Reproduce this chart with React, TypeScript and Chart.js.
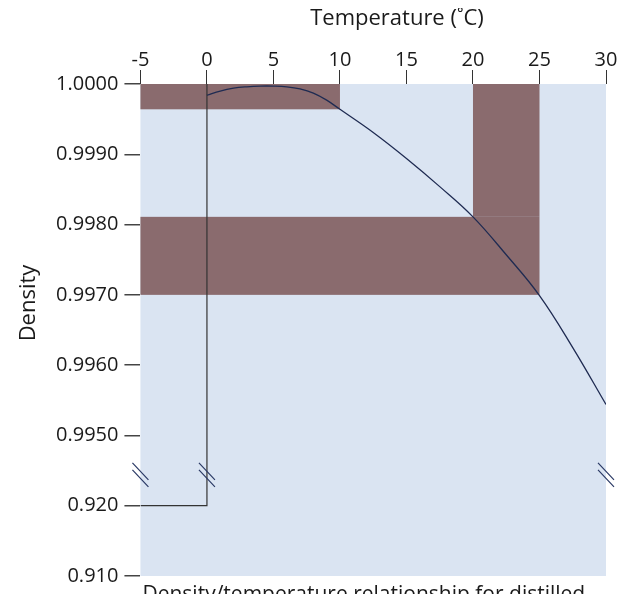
import { useEffect, useRef } from 'react';
import { Chart, registerables } from 'chart.js';

Chart.register(...registerables);

// Curve: density of distilled water vs temperature
const temps = [0, 1, 2, 3, 4, 5, 6, 7, 8, 9, 10, 12.5, 15, 17.5, 20, 22.5, 25, 27.5, 30];
const densities = [
  0.99984, 0.9999, 0.99994, 0.99996, 0.99997, 0.99997, 0.99996, 0.99993, 0.99987, 0.99977,
  0.99964, 0.99931, 0.99894, 0.99854, 0.99811, 0.99757, 0.99699, 0.99625, 0.99544,
];

// Ice reference line (0 °C → 0.920)
const iceTemps = [0, 0, -5];
const iceDensities = [1.0, 0.92, 0.92];

// Shaded bands
const bandStart = [-5, 20, -5];
const bandEnd = [10, 25, 25];
const bandHigh = [1.0, 1.0, 0.99811];
const bandLow = [0.99964, 0.99811, 0.997];

// Axis ticks
const xTickValues = [-5, 0, 5, 10, 15, 20, 25, 30];
const yTickLabels = ['0.910', '0.920', '0.9950', '0.9960', '0.9970', '0.9980', '0.9990', '1.0000'];

// Axis break marks
const breakTemps = [-5, 0, 30];
const breakIndex = 1.44;

const FONT = "'Open Sans', 'DejaVu Sans', sans-serif";

// broken y scale: 0.910..0.920 on lower part, 0.995..1.000 on upper part
function toPos(d: number): number {
  return d >= 0.99 ? 2 + (d - 0.995) / 0.001 : (d - 0.91) / 0.01;
}

const decor = {
  id: 'decor',
  beforeDatasetsDraw(chart: any) {
    const { ctx, chartArea: a, scales } = chart;
    const x = scales.x;
    const y = scales.y;
    ctx.save();
    ctx.fillStyle = '#dae4f2';
    ctx.fillRect(a.left, a.top, a.right - a.left, a.bottom - a.top);
    ctx.fillStyle = '#8a6b6e';
    for (let i = 0; i < bandStart.length; i++) {
      const x0 = x.getPixelForValue(bandStart[i]);
      const x1 = x.getPixelForValue(bandEnd[i]);
      const y0 = y.getPixelForValue(toPos(bandHigh[i]));
      const y1 = y.getPixelForValue(toPos(bandLow[i]));
      ctx.fillRect(x0, y0, x1 - x0, y1 - y0);
    }
    ctx.restore();
  },
  afterDatasetsDraw(chart: any) {
    const { ctx, scales } = chart;
    const x = scales.x;
    const y = scales.y;
    ctx.save();
    ctx.strokeStyle = '#2b3a66';
    ctx.lineWidth = 1.2;
    const cy = y.getPixelForValue(breakIndex);
    for (const t of breakTemps) {
      const cx = x.getPixelForValue(t);
      ctx.beginPath();
      ctx.moveTo(cx - 8, cy - 12);
      ctx.lineTo(cx + 8, cy + 5);
      ctx.moveTo(cx - 8, cy - 5);
      ctx.lineTo(cx + 8, cy + 12);
      ctx.stroke();
    }
    ctx.restore();
  },
  afterDraw(chart: any) {
    const { ctx, chartArea: a } = chart;
    ctx.save();
    ctx.fillStyle = '#1a1a1a';
    ctx.font = `22px ${FONT}`;
    ctx.textAlign = 'center';
    ctx.textBaseline = 'alphabetic';
    ctx.fillText('Temperature (˚C)', 389, 17);
    ctx.save();
    ctx.translate(21, 295);
    ctx.rotate(-Math.PI / 2);
    ctx.textBaseline = 'middle';
    ctx.fillText('Density', 0, 0);
    ctx.restore();
    ctx.font = `21px ${FONT}`;
    ctx.textAlign = 'left';
    ctx.textBaseline = 'alphabetic';
    ctx.fillText('Density/temperature relationship for distilled', a.left + 2, 593);
    ctx.restore();
  },
};

export default function App() {
  const ref = useRef<HTMLCanvasElement | null>(null);
  useEffect(() => {
    if (!ref.current) return;
    const chart = new Chart(ref.current, {
      type: 'line',
      data: {
        datasets: [
          {
            data: temps.map((t, i) => ({ x: t, y: toPos(densities[i]) })),
            borderColor: '#1f2b52',
            borderWidth: 1.3,
            pointRadius: 0,
            tension: 0.4,
            fill: false,
          },
          {
            data: iceTemps.map((t, i) => ({ x: t, y: toPos(iceDensities[i]) })),
            borderColor: '#333333',
            borderWidth: 1.2,
            pointRadius: 0,
            tension: 0,
            fill: false,
          },
        ],
      },
      options: {
        responsive: false,
        animation: false,
        layout: { padding: { top: 42, left: 42, right: 22, bottom: 14 } },
        plugins: { legend: { display: false }, tooltip: { enabled: false }, title: { display: false } },
        scales: {
          x: {
            type: 'linear',
            position: 'top',
            min: -5,
            max: 30,
            afterBuildTicks: (axis: any) => {
              axis.ticks = xTickValues.map((v) => ({ value: v }));
            },
            ticks: { color: '#1a1a1a', font: { family: FONT, size: 20 }, padding: -2, callback: (v: any) => String(v) },
            grid: { drawOnChartArea: false, drawTicks: true, tickLength: 14, color: '#333333', lineWidth: 1 },
            border: { display: false },
          },
          y: {
            type: 'linear',
            min: 0,
            max: 7,
            ticks: {
              stepSize: 1,
              color: '#1a1a1a',
              font: { family: FONT, size: 20 },
              padding: 6,
              callback: (v: any) => yTickLabels[Math.round(Number(v))] ?? '',
            },
            grid: { drawOnChartArea: false, drawTicks: true, tickLength: 16, color: '#444444', lineWidth: 1.5 },
            border: { display: false },
          },
        },
      },
      plugins: [decor],
    } as any);
    return () => chart.destroy();
  }, []);
  return <canvas ref={ref} width={620} height={586} style={{ display: 'block' }} />;
}
